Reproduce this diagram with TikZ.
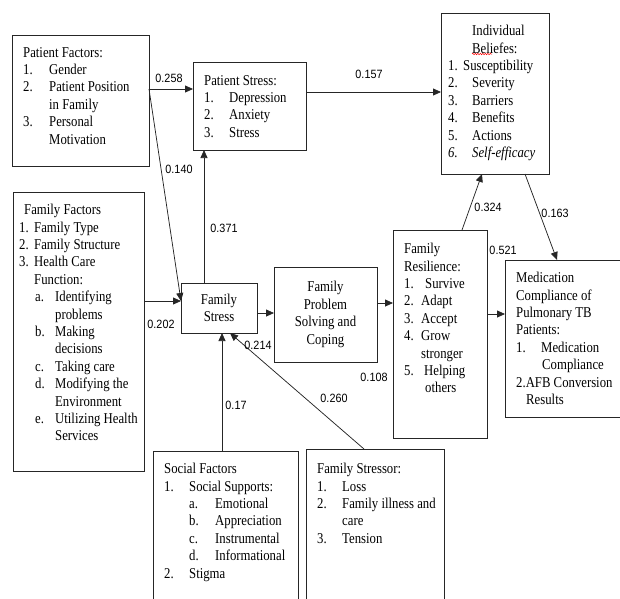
\documentclass[tikz,border=0pt]{standalone}
\usepackage{fontspec}
\setmainfont{Liberation Serif}[FakeStretch=0.85]
\setsansfont{Liberation Sans}[FakeStretch=0.9]
\usetikzlibrary{arrows.meta, positioning, calc, decorations.pathmorphing}

\newcommand{\itm}[3]{\makebox[#1][l]{#2}#3}

\begin{document}
\begin{tikzpicture}[
  x=1pt, y=-1pt,
  box/.style  = {draw=black!85, line width=0.75pt, anchor=north west, inner sep=0pt,
                 outer sep=0pt, font=\fontsize{15}{17.4}\selectfont, align=center},
  txt/.style  = {anchor=north west, inner sep=0pt, align=left,
                 font=\fontsize{15}{17.4}\selectfont},
  lbl/.style  = {inner sep=0pt, font=\sffamily\fontsize{12}{14}\selectfont},
  arr/.style  = {-{Triangle[length=8pt, width=7pt]}, line width=0.75pt, draw=black!85},
]
\useasboundingbox (0,0) rectangle (620,598);
\clip (0,0) rectangle (620,598);

% ── Boxes ────────────────────────────────────────────────────────────────────
\node[box, minimum width=137, minimum height=131] (pf) at (12,35)  {};
\node[box, minimum width=113, minimum height=88]  (ps) at (193,62) {};
\node[box, minimum width=108, minimum height=161] (ib) at (441,13) {};
\node[box, minimum width=131, minimum height=279] (ff) at (13,192) {};
\node[box, minimum width=76,  minimum height=50]  (fs) at (181,283) {Family\\Stress};
\node[box, minimum width=103, minimum height=95]  (fp) at (274,267)
      {\raisebox{4pt}{\begin{tabular}{@{}c@{}}Family\\Problem\\Solving and\\Coping\end{tabular}}};
\node[box, minimum width=94,  minimum height=208] (fr) at (393,230) {};
\node[box, minimum width=125, minimum height=157] (mc) at (505,260) {};
\node[box, minimum width=145, minimum height=160] (sf) at (153,451) {};
\node[box, minimum width=138, minimum height=160] (fst) at (306,449) {};

% ── Box texts ────────────────────────────────────────────────────────────────
\node[txt] (pft) at (23,47)
  {Patient Factors:\\
   \itm{26pt}{1.}{Gender}\\
   \itm{26pt}{2.}{Patient Position}\\
   \hspace*{26pt}in Family\\
   \itm{26pt}{3.}{Personal}\\
   \hspace*{26pt}Motivation};

\node[txt] (pst) at (204,75)
  {Patient Stress:\\
   \itm{25pt}{1.}{Depression}\\
   \itm{25pt}{2.}{Anxiety}\\
   \itm{25pt}{3.}{Stress}};

\node[txt] (ibt) at (448,25)
  {\hspace*{24pt}Individual\\
   \hspace*{24pt}Beliefes:\\
   \itm{15pt}{1.}{Susceptibility}\\
   \itm{24pt}{2.}{Severity}\\
   \itm{24pt}{3.}{Barriers}\\
   \itm{24pt}{4.}{Benefits}\\
   \itm{24pt}{5.}{Actions}\\
   \itm{24pt}{\itshape 6.}{\itshape Self-efficacy}};
\draw[red, line width=0.5pt, decorate,
      decoration={snake, amplitude=0.7pt, segment length=2.5pt}]
  (472,54) -- (492,54);

\node[txt] (fft) at (19,204)
  {\hspace*{5pt}Family Factors\\
   \itm{15pt}{1.}{Family Type}\\
   \itm{15pt}{2.}{Family Structure}\\
   \itm{15pt}{3.}{Health Care}\\
   \hspace*{15pt}Function:\\
   \hspace*{16pt}\itm{20pt}{a.}{Identifying}\\
   \hspace*{36pt}problems\\
   \hspace*{16pt}\itm{20pt}{b.}{Making}\\
   \hspace*{36pt}decisions\\
   \hspace*{16pt}\itm{20pt}{c.}{Taking care}\\
   \hspace*{16pt}\itm{20pt}{d.}{Modifying the}\\
   \hspace*{36pt}Environment\\
   \hspace*{16pt}\itm{20pt}{e.}{Utilizing Health}\\
   \hspace*{36pt}Services};

\node[txt] (frt) at (404,243)
  {Family\\
   Resilience:\\
   \itm{21pt}{1.}{Survive}\\
   \itm{17pt}{2.}{Adapt}\\
   \itm{17pt}{3.}{Accept}\\
   \itm{17pt}{4.}{Grow}\\
   \hspace*{17pt}stronger\\
   \itm{20pt}{5.}{Helping}\\
   \hspace*{21pt}others};

\node[txt] (mct) at (516,272)
  {Medication\\
   Compliance of\\
   Pulmonary TB\\
   Patients:\\
   \itm{25pt}{1.}{Medication}\\
   \hspace*{26pt}Compliance\\
   2.AFB Conversion\\
   \hspace*{10pt}Results};

\node[txt] (sft) at (164,463)
  {Social Factors\\
   \itm{25pt}{1.}{Social Supports:}\\
   \hspace*{25pt}\itm{26pt}{a.}{Emotional}\\
   \hspace*{25pt}\itm{26pt}{b.}{Appreciation}\\
   \hspace*{25pt}\itm{26pt}{c.}{Instrumental}\\
   \hspace*{25pt}\itm{26pt}{d.}{Informational}\\
   \itm{25pt}{2.}{Stigma}};

\node[txt] (fstt) at (317,463)
  {Family Stressor:\\
   \itm{25pt}{1.}{Loss}\\
   \itm{25pt}{2.}{Family illness and}\\
   \hspace*{25pt}care\\
   \itm{25pt}{3.}{Tension}};

% ── Paths ────────────────────────────────────────────────────────────────────
\draw[arr] (pf.east |- 0,89)  -- (ps.west |- 0,89);
\draw[arr] (pf.east |- 0,89)  -- (fs.west |- 0,301);
\draw[arr] (fs.north -| 204,0) -- (ps.south -| 204,0);
\draw[arr] (ps.east |- 0,92)  -- (ib.west |- 0,92);
\draw[arr] (ff.east |- 0,301) -- (fs.west |- 0,301);
\draw[arr] (fs.east |- 0,313) -- (fp.west |- 0,313);
\draw[arr] (fp.east |- 0,303) -- (fr.west |- 0,303);
\draw[arr] (fr.east |- 0,314) -- (mc.west |- 0,314);
\draw[arr] (fr.north -| 462,0) -- (ib.south -| 482,0);
\draw[arr] (ib.south -| 525,0) -- (mc.north -| 557,0);
\draw[arr] (sf.north -| 222,0) -- (fs.south -| 222,0);
\draw[arr] (fst.north -| 364,0) -- (fs.south -| 230,0);

% ── Coefficients ─────────────────────────────────────────────────────────────
\node[lbl] (c1)  at (169,78)  {0.258};
\node[lbl] (c2)  at (179,169) {0.140};
\node[lbl] (c3)  at (224,228) {0.371};
\node[lbl] (c4)  at (369,74)  {0.157};
\node[lbl] (c5)  at (161,324) {0.202};
\node[lbl] (c6)  at (258,345) {0.214};
\node[lbl] (c7)  at (236,405) {0.17};
\node[lbl] (c8)  at (334,398) {0.260};
\node[lbl] (c9)  at (374,377) {0.108};
\node[lbl] (c10) at (488,207) {0.324};
\node[lbl] (c11) at (555,213) {0.163};
\node[lbl] (c12) at (503,250) {0.521};

\end{tikzpicture}
\end{document}
